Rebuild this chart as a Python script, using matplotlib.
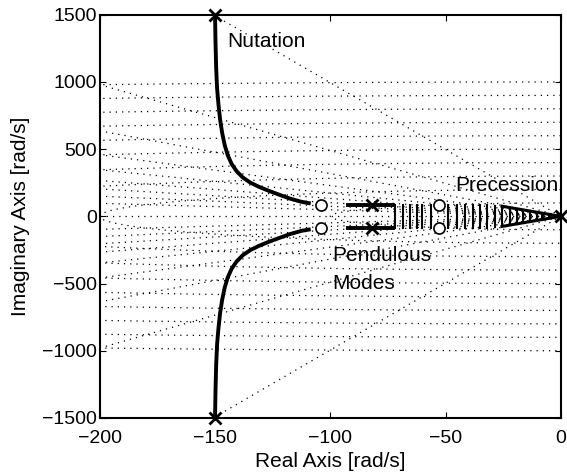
#!/usr/bin/env python3
'''
Root locus with s-plane grid: nutation, pendulous and precession modes
'''

import numpy
import matplotlib.pyplot as plt

plt.rcParams['font.family'] = ['Liberation Sans', 'DejaVu Sans']

# s-plane grid
zetas = [0.1, 0.2, 0.3, 0.4, 0.5, 0.6, 0.7, 0.8, 0.9]
wns = [100, 200, 300, 400, 500, 600, 700, 800, 900, 1000]

# poles / zeros
pole_re = [-150, -150, -82, -82, 0]
pole_im = [1500, -1500, 88, -88, 0]
zero_re = [-104, -104, -53, -53]
zero_im = [88, -88, 88, -88]

# nutation branch (upper half)
nut_re = [-150, -149.8, -149.5, -149.1, -148.5, -147.8, -146.9, -145.8, -144.5,
          -142.8, -140.6, -138.0, -134.8, -131.0, -127.0, -122.0, -117.5, -112.5, -108.5]
nut_im = [1500, 1300, 1100, 950, 830, 720, 620, 530, 455,
          390, 335, 290, 252, 220, 192, 160, 132, 108, 96]

# pendulous branch segment
pend_re = [-92.5, -82, -73]
pend_im = [88, 88, 88]

# precession branch: wedge near origin and conjugate jumps
prec_re = [0, -25.5]
prec_im = [0, 75]
jump_re = [-72, -68.5, -65.5, -62.5, -60, -56.5, -49, -45, -41.5, -38, -35, -32,
           -28.5, -25.5, -22, -19, -16.5, -13.5, -10.5, -8, -5, -2]
jump_im = [88, 88, 88, 88, 88, 88, 88, 88, 88, 88, 86, 84,
           80, 75, 65, 56, 48, 40, 31, 24, 15, 6]


def sgrid(ax):
    dots = dict(color='k', lw=0.9, ls=(0, (1, 4)))
    xr = numpy.linspace(-200, 0, 400)
    for z in zetas:
        slope = numpy.sqrt(1 - z**2) / z
        for sgn in (1, -1):
            ax.plot(xr, -sgn * slope * xr, **dots)
    for w in wns:
        th = numpy.linspace(numpy.pi / 2, 3 * numpy.pi / 2, 2000)
        ax.plot(w * numpy.cos(th), w * numpy.sin(th), **dots)
    ax.plot([-200, 0], [0, 0], **dots)


def plotit():
    fig = plt.figure(figsize=(5.67, 4.76), dpi=100)
    ax = fig.add_axes([0.176, 0.122, 0.813, 0.847])

    sgrid(ax)

    nr = numpy.array(nut_re)
    ni = numpy.array(nut_im)
    for sgn in (1, -1):
        ax.plot(nr, sgn * ni, color='k', lw=2.8, solid_capstyle='butt',
                solid_joinstyle='round')
        ax.plot(pend_re, sgn * numpy.array(pend_im), color='k', lw=2.8)
        ax.plot(prec_re, sgn * numpy.array(prec_im), color='k', lw=2.2)
    for x, h in zip(jump_re, jump_im):
        ax.plot([x, x], [-h, h], color='k', lw=1.5)

    ax.plot(pole_re, pole_im, 'x', color='k', ms=9, mew=2, clip_on=False)
    ax.plot(zero_re, zero_im, 'o', color='k', mfc='white', ms=8, mew=1.2)

    ax.text(-144.5, 1300, 'Nutation', fontsize=15, va='center')
    ax.text(-1, 232, 'Precession', fontsize=15, va='center', ha='right')
    ax.text(-99, -290, 'Pendulous', fontsize=15, va='center')
    ax.text(-99, -500, 'Modes', fontsize=15, va='center')

    ax.set_xlim(-200, 0)
    ax.set_ylim(-1500, 1500)
    ax.set_xticks([-200, -150, -100, -50, 0])
    ax.set_yticks([-1500, -1000, -500, 0, 500, 1000, 1500])
    ax.set_xticklabels(['\u2212200', '\u2212150', '\u2212100', '\u221250', '0'])
    ax.set_yticklabels(['\u22121500', '\u22121000', '\u2212500', '0', '500', '1000', '1500'])
    ax.tick_params(direction='in', top=True, right=True, labelsize=14, length=4)
    ax.tick_params(axis='y', pad=2)
    ax.tick_params(axis='x', pad=9)
    for s in ax.spines.values():
        s.set_linewidth(1.5)
    ax.set_xlabel('Real Axis [rad/s]', fontsize=15, labelpad=3)
    ax.set_ylabel('Imaginary Axis [rad/s]', fontsize=15, labelpad=9)


if '__main__' == __name__:
    plotit()
    plt.savefig('out.png')
